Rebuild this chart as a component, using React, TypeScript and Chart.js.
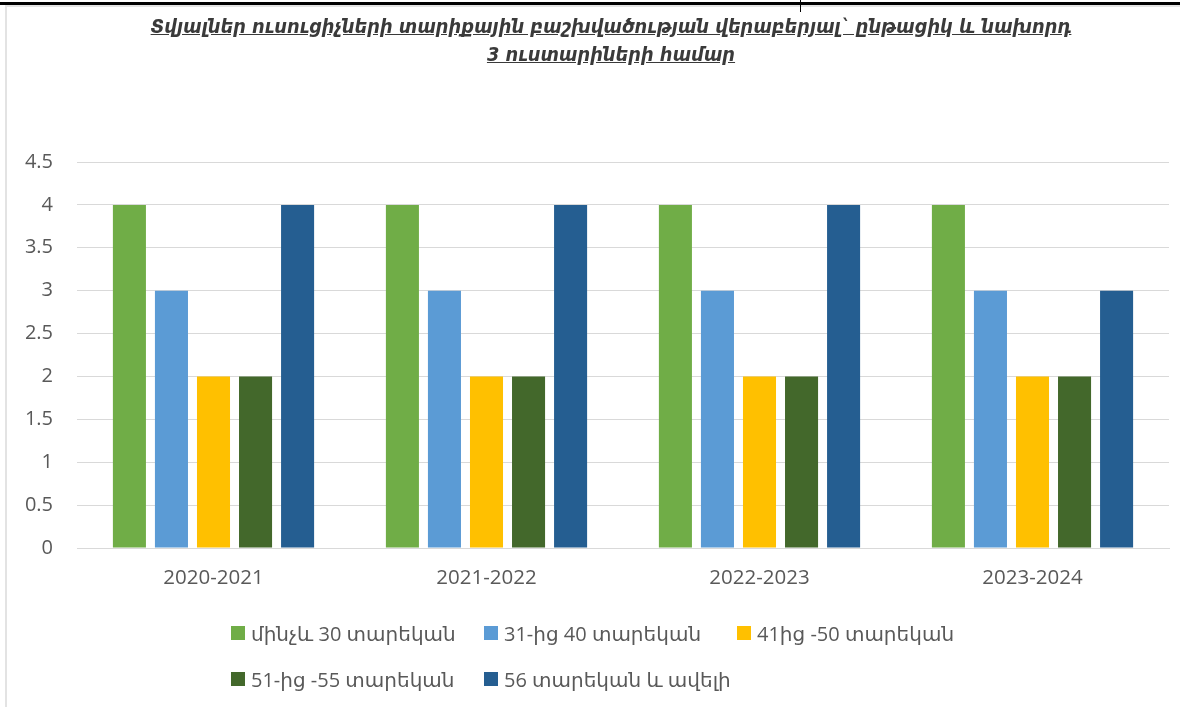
import React, { useEffect, useRef } from "react";
import { Chart, registerables } from "chart.js";

Chart.register(...registerables);

const titleLines = [
  "Տվյալներ ուսուցիչների տարիքային բաշխվածության վերաբերյալ` ընթացիկ և նախորդ",
  "3 ուստարիների համար",
];
const categories = ["2020-2021", "2021-2022", "2022-2023", "2023-2024"];
const seriesNames = [
  "մինչև 30 տարեկան",
  "31-ից 40 տարեկան",
  "41ից -50 տարեկան",
  "51-ից -55 տարեկան",
  "56 տարեկան և ավելի",
];
const under30 = [4, 4, 4, 4];
const from31to40 = [3, 3, 3, 3];
const from41to50 = [2, 2, 2, 2];
const from51to55 = [2, 2, 2, 2];
const over56 = [4, 4, 4, 3];
const seriesColors = ["#70AD47", "#5B9BD5", "#FFC000", "#43682B", "#255E91"];
const yTicks = [0, 0.5, 1, 1.5, 2, 2.5, 3, 3.5, 4, 4.5];

const FONT = '"Open Sans", "DejaVu Sans", sans-serif';

export default function App() {
  const ref = useRef<HTMLCanvasElement>(null);

  useEffect(() => {
    document.body.style.margin = "0";
    const values = [under30, from31to40, from41to50, from51to55, over56];
    const chart = new Chart(ref.current!, {
      type: "bar",
      data: {
        labels: categories,
        datasets: seriesNames.map((name, i) => ({
          label: name,
          data: values[i],
          backgroundColor: seriesColors[i],
          borderWidth: 0,
          categoryPercentage: 0.77,
          barPercentage: 0.786,
        })),
      },
      options: {
        responsive: false,
        animation: false,
        layout: { padding: { top: 162, left: 0, right: 11, bottom: 99 } },
        plugins: {
          legend: { display: false },
          title: { display: false },
          tooltip: { enabled: false },
        },
        scales: {
          x: {
            grid: { display: false, drawTicks: false },
            border: { display: true, color: "#D9D9D9", width: 1 },
            ticks: { color: "#595959", font: { family: FONT, size: 20.5 }, padding: 18 },
            afterFit: (s: any) => {
              s.height = 60;
            },
          },
          y: {
            min: 0,
            max: 4.5,
            afterBuildTicks: (s: any) => {
              s.ticks = yTicks.map((v) => ({ value: v }));
            },
            grid: { color: "#D9D9D9", lineWidth: 1, drawTicks: false },
            border: { display: false },
            ticks: {
              color: "#595959",
              font: { family: FONT, size: 20 },
              padding: 24,
              callback: (v: any) => String(v),
            },
            afterFit: (s: any) => {
              s.width = 77;
            },
          },
        },
      },
    });
    return () => chart.destroy();
  }, []);

  return (
    <div style={{ position: "absolute", left: 0, top: 0, width: 1180, height: 707, background: "#fff", overflow: "hidden" }}>
      <div style={{ position: "absolute", left: 0, top: 2, width: 1180, height: 3, background: "#000" }} />
      <div style={{ position: "absolute", left: 5, top: 5, width: 1175, height: 2, background: "#E3E3E3" }} />
      <div style={{ position: "absolute", left: 5, top: 5, width: 2, height: 702, background: "#E3E3E3" }} />
      <div style={{ position: "absolute", left: 800, top: 0, width: 1, height: 12, background: "#000" }} />
      <canvas ref={ref} width={1180} height={707} style={{ position: "absolute", left: 0, top: 0 }} />
      <div
        style={{
          position: "absolute",
          left: 0,
          top: 13,
          width: 1222,
          textAlign: "center",
          fontFamily: '"DejaVu Sans Condensed", "DejaVu Sans", sans-serif',
          fontWeight: "bold",
          fontStyle: "italic",
          fontSize: 19.8,
          lineHeight: "28px",
          color: "#3A3A3A",
          textDecoration: "underline",
        }}
      >
        {titleLines.map((t, i) => (
          <div key={i}>{t}</div>
        ))}
      </div>
      <div
        style={{
          position: "absolute",
          left: 231,
          top: 620,
          display: "grid",
          gridTemplateColumns: "253px 253px 253px",
          rowGap: 20,
          fontFamily: FONT,
          fontSize: 20,
          color: "#595959",
        }}
      >
        {seriesNames.map((n, i) => (
          <div key={i} style={{ display: "flex", alignItems: "center", height: 26, whiteSpace: "nowrap" }}>
            <span style={{ display: "inline-block", width: 14, height: 14, background: seriesColors[i], marginRight: 6 }} />
            <span>{n}</span>
          </div>
        ))}
      </div>
    </div>
  );
}
